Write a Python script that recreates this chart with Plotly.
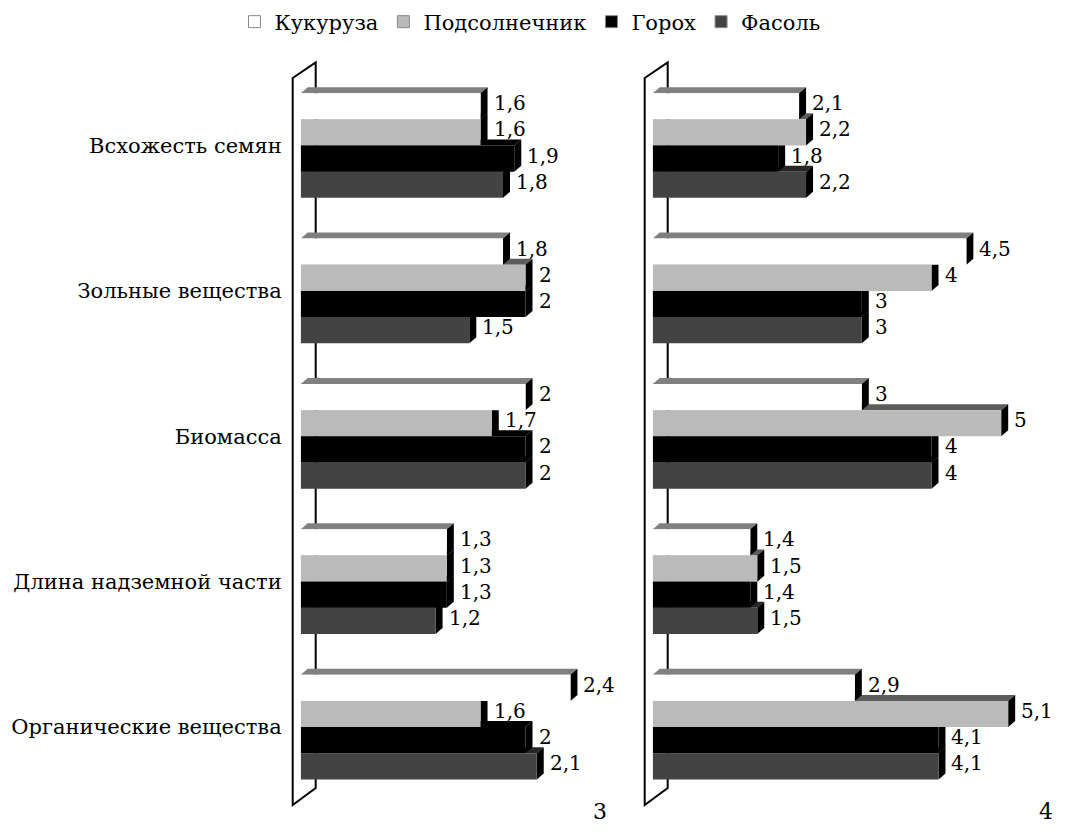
import plotly.graph_objects as go

# ---- data ----
categories = ["Всхожесть семян", "Зольные вещества", "Биомасса",
              "Длина надземной части", "Органические вещества"]
series_names = ["Кукуруза", "Подсолнечник", "Горох", "Фасоль"]

# panel "3"
kukuruza_3 = [1.6, 1.8, 2.0, 1.3, 2.4]
podsolnechnik_3 = [1.6, 2.0, 1.7, 1.3, 1.6]
gorokh_3 = [1.9, 2.0, 2.0, 1.3, 2.0]
fasol_3 = [1.8, 1.5, 2.0, 1.2, 2.1]

# panel "4"
kukuruza_4 = [2.1, 4.5, 3.0, 1.4, 2.9]
podsolnechnik_4 = [2.2, 4.0, 5.0, 1.5, 5.1]
gorokh_4 = [1.8, 3.0, 4.0, 1.4, 4.1]
fasol_4 = [2.2, 3.0, 4.0, 1.5, 4.1]

panel_labels = ["3", "4"]

# ---- styling ----
W, H = 1068, 837
FONT = "DejaVu Serif"
FS_CAT = 21
FS_VAL = 20
FS_LEG = 21
front_colors = ["#ffffff", "#bababa", "#000000", "#434343"]
top_colors = ["#808080", "#5c5c5c", "#000000", "#262626"]
side_color = "#000000"

BAR_W = 0.18          # bar thickness in category units
GROUP_START = -0.36   # top of first bar relative to category centre
DX_PX, DY_PX = 7, 6   # depth of the pseudo-3D extrusion
CAT_PX = 145.4        # pixels per category

# plot area placement (pixels)
Y_TOP_PX, Y_BOT_PX = 72.8, 799.8
panels = [
    dict(x0=300.7, x1=600.0, ppu=112.4, xa="x", ya="y",
         data=[kukuruza_3, podsolnechnik_3, gorokh_3, fasol_3]),
    dict(x0=652.7, x1=1060.0, ppu=69.7, xa="x2", ya="y2",
         data=[kukuruza_4, podsolnechnik_4, gorokh_4, fasol_4]),
]


def px_x(p):
    return p / W


def px_y(p):
    return 1 - p / H


def fmt(v):
    return f"{v:g}".replace(".", ",")


fig = go.Figure()
shapes = []
annotations = []
ypos = list(range(len(categories)))
dy = DY_PX / CAT_PX

for pi, p in enumerate(panels):
    dx = DX_PX / p["ppu"]
    # front faces of the bars
    for k, name in enumerate(series_names):
        fig.add_trace(go.Bar(
            x=p["data"][k], y=ypos, orientation="h",
            width=BAR_W, offset=GROUP_START + BAR_W * k,
            marker=dict(color=front_colors[k], line=dict(width=0)),
            xaxis=p["xa"], yaxis=p["ya"], showlegend=False,
            hoverinfo="x+name", name=name,
        ))
    # back wall outline
    wx0, wx1 = p["x0"] - 8, p["x0"] + 15
    shapes.append(dict(
        type="path", xref="paper", yref="paper", layer="below",
        path=(f"M{px_x(wx0)},{px_y(78)} L{px_x(wx1)},{px_y(62.5)} "
              f"L{px_x(wx1)},{px_y(788)} L{px_x(wx0)},{px_y(805)} Z"),
        line=dict(color="black", width=2), fillcolor="rgba(0,0,0,0)",
    ))
    # top and side faces, lower bars first so upper ones overlap them
    for j in ypos:
        for k in reversed(range(len(series_names))):
            v = p["data"][k][j]
            yt = j + GROUP_START + BAR_W * k
            yb = yt + BAR_W
            shapes.append(dict(
                type="path", xref=p["xa"], yref=p["ya"], layer="below",
                path=(f"M0,{yt} L{dx},{yt - dy} L{v + dx},{yt - dy} "
                      f"L{v},{yt} Z"),
                fillcolor=top_colors[k], line=dict(width=0),
            ))
            shapes.append(dict(
                type="path", xref=p["xa"], yref=p["ya"], layer="below",
                path=(f"M{v},{yt} L{v + dx},{yt - dy} L{v + dx},{yb - dy} "
                      f"L{v},{yb} Z"),
                fillcolor=side_color, line=dict(width=0),
            ))
            annotations.append(dict(
                xref=p["xa"], yref=p["ya"], x=v, y=yt + BAR_W / 2,
                text=fmt(v), showarrow=False, xanchor="left",
                xshift=11, yshift=3,
                font=dict(family=FONT, size=FS_VAL, color="black"),
            ))

# legend entries
for k, name in enumerate(series_names):
    fig.add_trace(go.Bar(
        x=[None], y=[None], orientation="h", name=name,
        marker=dict(color=front_colors[k], line=dict(color="#8a8a8a", width=1)),
        xaxis="x", yaxis="y", showlegend=True,
    ))

# panel numbers
annotations.append(dict(xref="paper", yref="paper", x=px_x(600), y=px_y(826),
                        text=panel_labels[0], showarrow=False,
                        font=dict(family=FONT, size=FS_CAT + 1, color="black")))
annotations.append(dict(xref="paper", yref="paper", x=px_x(1055), y=px_y(826),
                        text=panel_labels[1], showarrow=False,
                        font=dict(family=FONT, size=FS_CAT + 1, color="black")))

ydom = [px_y(Y_BOT_PX), px_y(Y_TOP_PX)]
yrange = [len(categories) - 0.5, -0.5]
axis_common = dict(showgrid=False, zeroline=False, showline=False, ticks="",
                   automargin=False)

fig.update_layout(
    width=W, height=H, margin=dict(l=0, r=0, t=0, b=0),
    paper_bgcolor="white", plot_bgcolor="rgba(0,0,0,0)",
    barmode="overlay",
    font=dict(family=FONT, size=FS_CAT, color="black"),
    xaxis=dict(domain=[px_x(panels[0]["x0"]), px_x(panels[0]["x1"])],
               range=[0, (panels[0]["x1"] - panels[0]["x0"]) / panels[0]["ppu"]],
               anchor="y", showticklabels=False, **axis_common),
    xaxis2=dict(domain=[px_x(panels[1]["x0"]), px_x(panels[1]["x1"])],
                range=[0, (panels[1]["x1"] - panels[1]["x0"]) / panels[1]["ppu"]],
                anchor="y2", showticklabels=False, **axis_common),
    yaxis=dict(domain=ydom, range=yrange, anchor="x",
               tickmode="array", tickvals=ypos, ticktext=categories,
               tickfont=dict(family=FONT, size=FS_CAT, color="black"),
               ticklabelstandoff=18, **axis_common),
    yaxis2=dict(domain=ydom, range=yrange, anchor="x2",
                showticklabels=False, **axis_common),
    legend=dict(orientation="h", x=px_x(530), xanchor="center",
                y=px_y(22), yanchor="middle",
                font=dict(family=FONT, size=FS_LEG, color="black"),
                itemwidth=30, bgcolor="rgba(0,0,0,0)"),
    shapes=shapes, annotations=annotations,
)

fig.write_html("out.html")
